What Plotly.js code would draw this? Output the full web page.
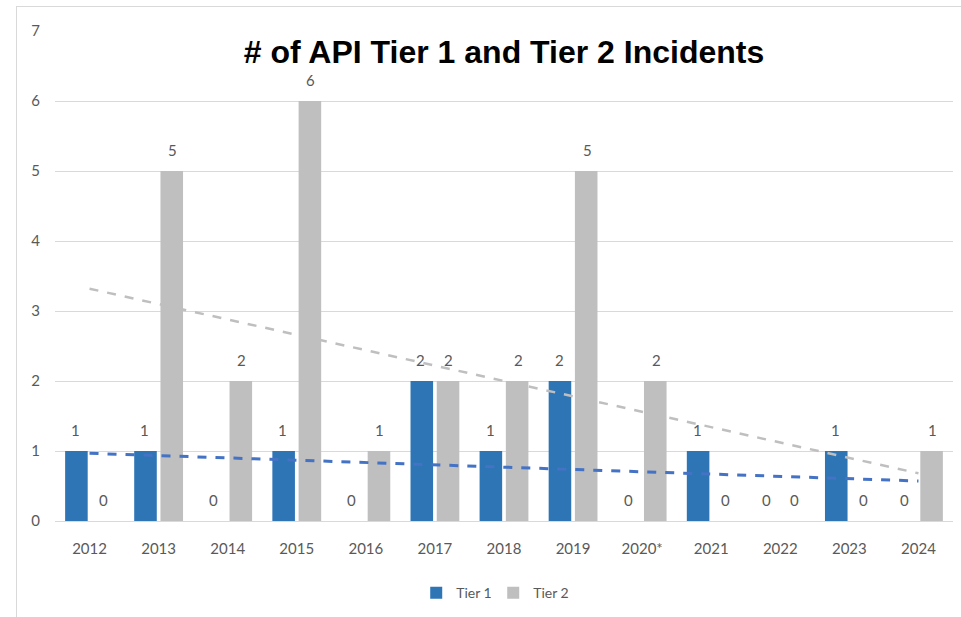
<!DOCTYPE html>
<html>
<head>
<meta charset="utf-8">
<script src="https://cdn.plot.ly/plotly-3.0.1.min.js"></script>
<style>
  body { margin: 0; background: #fff; }
  #chart { width: 961px; height: 617px; }
  #frame { position: absolute; left: 16px; top: 6px; width: 960px; height: 620px;
           border: 1px solid #d9d9d9; pointer-events: none; }
</style>
</head>
<body>
<div id="chart"></div>
<div id="frame"></div>
<script>
const years = ['2012', '2013', '2014', '2015', '2016', '2017', '2018', '2019', '2020*', '2021', '2022', '2023', '2024'];
const tier1 = [1, 1, 0, 1, 0, 2, 1, 2, 0, 1, 0, 1, 0];
const tier2 = [0, 5, 2, 6, 1, 2, 2, 5, 2, 0, 0, 0, 1];

const textColor = '#595959';
const labelFont = { family: 'Lato, "Open Sans", sans-serif', size: 15, color: textColor };

// linear trend (like Excel's trendline) over category index 1..n
function trend(vals) {
  const n = vals.length;
  const xs = vals.map((v, i) => i + 1);
  const mx = xs.reduce((a, b) => a + b, 0) / n;
  const my = vals.reduce((a, b) => a + b, 0) / n;
  let sxy = 0, sxx = 0;
  xs.forEach((x, i) => { sxy += (x - mx) * (vals[i] - my); sxx += (x - mx) * (x - mx); });
  const b = sxy / sxx;
  return [my + b * (1 - mx), my + b * (n - mx)];
}

const t1 = trend(tier1);
const t2 = trend(tier2);
const ends = [years[0], years[years.length - 1]];

const data = [
  { type: 'bar', name: 'Tier 1', x: years, y: tier1, marker: { color: '#2E75B6' }, hoverinfo: 'x+y' },
  { type: 'bar', name: 'Tier 2', x: years, y: tier2, marker: { color: '#BFBFBF' }, hoverinfo: 'x+y' },
  { type: 'scatter', mode: 'lines', x: ends, y: t2, showlegend: false, hoverinfo: 'skip',
    line: { color: '#BFBFBF', width: 2.5, dash: 'dash' } },
  { type: 'scatter', mode: 'lines', x: ends, y: t1, showlegend: false, hoverinfo: 'skip',
    line: { color: '#4472C4', width: 3, dash: 'dash' } }
];

// data labels above each bar (zeros included); x is the category index
const annotations = [];
[[tier1, -14], [tier2, 14]].forEach(([vals, dx]) => {
  vals.forEach((v, i) => {
    annotations.push({
      x: i, y: v, text: String(v), showarrow: false,
      xshift: dx, yshift: 21, yanchor: 'middle', font: labelFont
    });
  });
});

const layout = {
  width: 961,
  height: 617,
  paper_bgcolor: '#fff',
  plot_bgcolor: '#fff',
  margin: { l: 55, r: 8, t: 31, b: 96 },
  title: {
    text: '<b># of API Tier 1 and Tier 2 Incidents</b>',
    font: { family: '"Liberation Sans", Arial, sans-serif', size: 32, color: '#000' },
    xref: 'paper', x: 0.5, xanchor: 'center',
    yref: 'container', y: 1 - 52 / 617, yanchor: 'middle'
  },
  barmode: 'group',
  bargap: 0.24,
  bargroupgap: 0.14,
  showlegend: true,
  legend: {
    orientation: 'h', x: 0.488, xanchor: 'center', y: -0.147, yanchor: 'middle',
    font: { family: labelFont.family, size: 14, color: textColor },
    traceorder: 'normal', itemwidth: 30, entrywidth: 32, entrywidthmode: 'pixels'
  },
  xaxis: {
    type: 'category',
    tickfont: labelFont,
    showgrid: false,
    showline: true, linecolor: '#D9D9D9', linewidth: 1,
    ticks: '',
    ticklabelstandoff: 14
  },
  yaxis: {
    range: [0, 7],
    dtick: 1,
    tickfont: labelFont,
    gridcolor: '#D9D9D9',
    zeroline: false,
    ticks: '',
    ticklabelstandoff: 14
  },
  annotations: annotations
};

Plotly.newPlot('chart', data, layout, { displayModeBar: false });
</script>
</body>
</html>
